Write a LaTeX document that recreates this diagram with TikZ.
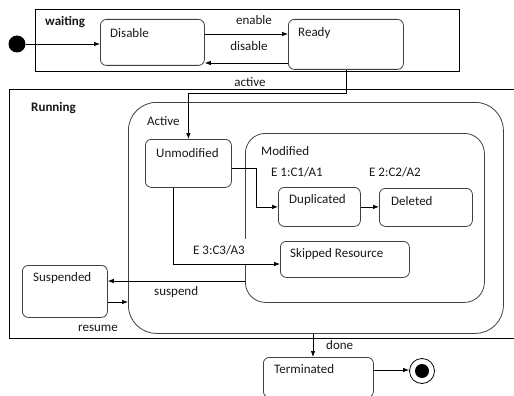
\documentclass[tikz,border=0pt]{standalone}
\usepackage{fontspec}
\setmainfont{Carlito}
\usetikzlibrary{arrows.meta,calc}
\begin{document}
\begin{tikzpicture}[x=1pt,y=-1pt,
  stbox/.style={draw=black!75,line width=0.8pt,rounded corners=6pt,inner sep=0pt,anchor=north west},
  frame/.style={draw=black,line width=0.8pt,inner sep=0pt,anchor=north west},
  txt/.style={font=\fontsize{13}{15}\selectfont,inner sep=0pt,anchor=west,text=black!90},
  btxt/.style={txt,font=\fontsize{13}{15}\selectfont\bfseries},
  arr/.style={draw=black,line width=0.7pt,-{Latex[length=6pt,width=4.5pt]}},
  ln/.style={draw=black,line width=0.7pt}]
\useasboundingbox (0,0) rectangle (514,396);
\fill[white] (0,0) rectangle (514,396);
% containers
\node[frame,minimum width=424pt,minimum height=62pt] (waiting) at (35,9) {};
\node[frame,minimum width=511pt,minimum height=249pt] (running) at (9,89) {};
\node[stbox,rounded corners=28pt,minimum width=375pt,minimum height=231pt] (active) at (128,102) {};
\node[stbox,rounded corners=20pt,minimum width=239pt,minimum height=169pt] (modified) at (245,133) {};
% states
\node[stbox,minimum width=104pt,minimum height=46pt] (disable) at (100,19) {};
\node[stbox,minimum width=115pt,minimum height=50pt] (ready) at (288,19) {};
\node[stbox,minimum width=86pt,minimum height=48pt] (unmod) at (145,139) {};
\node[stbox,minimum width=82pt,minimum height=39pt] (dup) at (278,187) {};
\node[stbox,minimum width=93pt,minimum height=38pt] (del) at (379,188) {};
\node[stbox,minimum width=129pt,minimum height=36pt] (skip) at (280,241) {};
\node[stbox,minimum width=85pt,minimum height=52pt] (susp) at (22,265) {};
\node[stbox,minimum width=110pt,minimum height=40pt] (term) at (263,357) {};
\node[circle,fill=black,minimum size=17pt,inner sep=0pt] (init) at (17,44) {};
\node[circle,draw=black,line width=0.8pt,minimum size=25pt,inner sep=0pt] (final) at (422,371) {};
\node[circle,fill=black,minimum size=14pt,inner sep=0pt] (finaldot) at (422,371) {};
% labels
\node[btxt] (tw) at (45,22) {waiting};
\node[txt] (tdis) at (110,33) {Disable};
\node[txt] (trdy) at (298,33) {Ready};
\node[txt,anchor=center] (ten) at (254,20) {enable};
\node[txt,anchor=center] (tdl) at (249,46) {disable};
\node[txt,anchor=center] (tact) at (250,82) {active};
\node[btxt] (trun) at (31,108) {Running};
\node[txt] (tactive) at (147,121) {Active};
\node[txt] (tunm) at (156,153) {Unmodified};
\node[txt] (tmod) at (261,151) {Modified};
\node[txt] (te1) at (271,172) {E 1:C1/A1};
\node[txt] (te2) at (369,172) {E 2:C2/A2};
\node[txt] (tdup) at (289,200) {Duplicated};
\node[txt] (tdel) at (391,201) {Deleted};
\node[txt] (tskip) at (290,254) {Skipped Resource};
\node[fill=white,inner sep=0pt,minimum width=61pt,minimum height=26pt,anchor=north west] (e3bg) at (189,239) {};
\node[txt] (te3) at (193,250) {E 3:C3/A3};
\node[txt] (tsusp) at (33,278) {Suspended};
\node[txt] (tsp) at (154,292) {suspend};
\node[txt] (tres) at (78,328) {resume};
\node[txt] (tdone) at (326,345) {done};
\node[txt] (tterm) at (274,369) {Terminated};
% level coordinates
\coordinate (yEn) at (0,34);
\coordinate (yDis) at (0,63);
\coordinate (yAct) at (0,93);
\coordinate (yDup) at (0,168);
\coordinate (xDup) at (256,0);
\coordinate (xSk) at (173,0);
\coordinate (ySk) at (0,264);
\coordinate (ySus) at (0,281);
\coordinate (yRes) at (0,302);
\coordinate (xDone) at (313,0);
\coordinate (yFin) at (0,370);
% connectors
\draw[arr] (init.east) -- (disable.west |- init.east);
\draw[arr] (disable.east |- yEn) -- (ready.west |- yEn);
\draw[arr] (ready.west |- yDis) -- (disable.east |- yDis);
\draw[arr] (ready.south) -- (ready.south |- yAct) -| (unmod.north);
\draw[arr] (unmod.east |- yDup) -- (xDup |- yDup) -- (xDup |- dup.west) -- (dup.west);
\draw[arr] (dup.east) -- (del.west |- dup.east);
\draw[arr] (xSk |- unmod.south) -- (xSk |- ySk) -- (skip.west |- ySk);
\draw[arr] (modified.west |- ySus) -- (susp.east |- ySus);
\draw[arr] (susp.east |- yRes) -- (active.west |- yRes);
\draw[arr] (xDone |- active.south) -- (xDone |- term.north);
\draw[arr] (term.east |- yFin) -- (final.west |- yFin);
\end{tikzpicture}
\end{document}
